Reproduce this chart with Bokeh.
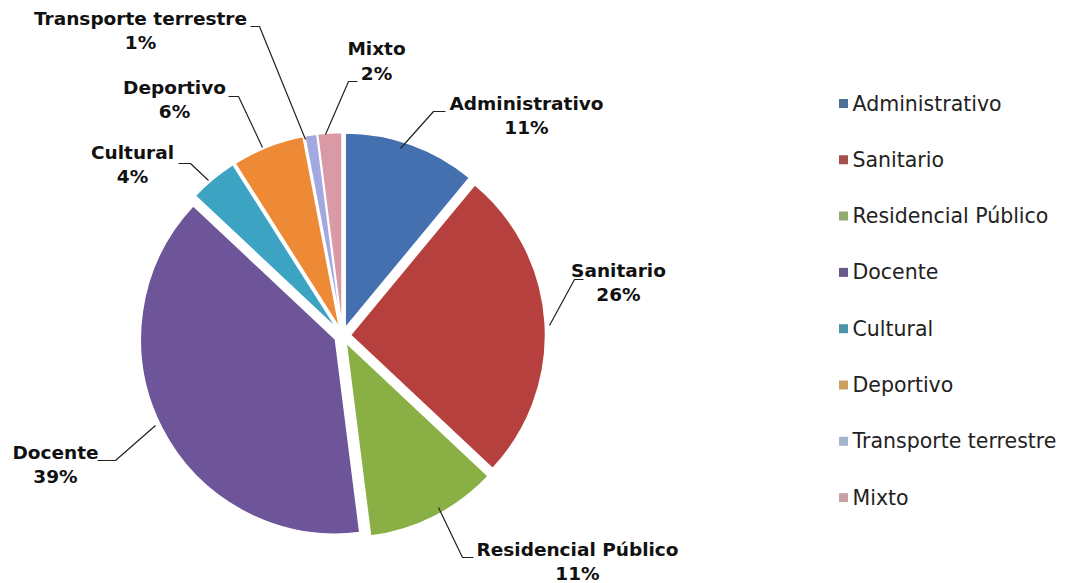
import numpy as np
from bokeh.plotting import figure
from bokeh.models import Range1d
from bokeh.core.properties import value
from bokeh.embed import file_html
from bokeh.resources import INLINE

# ---------------- data ----------------
categories = ["Administrativo", "Sanitario", "Residencial Público", "Docente",
              "Cultural", "Deportivo", "Transporte terrestre", "Mixto"]
percentages = [11, 26, 11, 39, 4, 6, 1, 2]

# ---------------- styles ----------------
slice_colors = ["#4470AF", "#B5403D", "#8AB045", "#6E559A",
                "#3DA3C2", "#EE8A35", "#A3A9E0", "#D99AA6"]
legend_colors = ["#4E6F96", "#A5504D", "#93AA6E", "#6A5A8C",
                 "#4E93AA", "#CDA062", "#A3B4CE", "#C9A0A4"]

W, H = 1081, 583


def X(xs):  # screen x (reference picture) -> data x
    return np.asarray(xs, dtype=float)


def Y(ys):  # screen y (reference picture) -> data y
    return H - np.asarray(ys, dtype=float)


p = figure(width=W, height=H, x_range=Range1d(0, W), y_range=Range1d(0, H),
           output_backend="svg", toolbar_location=None, min_border=0,
           background_fill_color="white", border_fill_color="white")
p.axis.visible = False
p.grid.visible = False
p.outline_line_color = None

# ---------------- pie ----------------
CX, CY, R, EXPLODE = X(342), Y(335), 195, 8
frac = np.array(percentages, dtype=float) / sum(percentages)
ends = np.cumsum(frac)
starts = ends - frac
start_ang = np.pi / 2 - ends * 2 * np.pi      # clockwise from 12 o'clock
end_ang = np.pi / 2 - starts * 2 * np.pi
mid = (start_ang + end_ang) / 2
p.wedge(x=CX + EXPLODE * np.cos(mid), y=CY + EXPLODE * np.sin(mid), radius=R,
        start_angle=start_ang, end_angle=end_ang, direction="anticlock",
        fill_color=slice_colors, line_color="white", line_width=1.5)

# ---------------- data labels (layout in screen px) ----------------
label_layout = {
    "Administrativo":       dict(cx=526, y1=103, y2=127, lead=[(445, 111), (433, 111), (400, 148)]),
    "Sanitario":            dict(cx=618, y1=270, y2=294, lead=[(583, 279), (574, 279), (549, 325)]),
    "Residencial Público":  dict(cx=577, y1=549, y2=573, lead=[(473, 557), (462, 557), (438, 507)]),
    "Docente":              dict(cx=55,  y1=452, y2=476, lead=[(97, 460), (115, 460), (155, 425)]),
    "Cultural":             dict(cx=132, y1=152, y2=176, lead=[(178, 163), (190, 163), (208, 180)]),
    "Deportivo":            dict(cx=174, y1=87,  y2=111, lead=[(228, 96), (238, 96), (262, 147)]),
    "Transporte terrestre": dict(cx=140, y1=18,  y2=42,  lead=[(250, 26), (259, 26), (305, 139)]),
    "Mixto":                dict(cx=376, y1=48,  y2=73,  lead=[(357, 81), (348, 81), (325, 134)]),
}

for cat, pct in zip(categories, percentages):
    L = label_layout[cat]
    xs, ys = zip(*L["lead"])
    p.line(x=X(xs), y=Y(ys), line_color="#222222", line_width=1.2)
    p.text(x=[X(L["cx"])], y=[Y(L["y1"])], text=[cat], text_align="center",
           text_baseline="middle", text_font=value("DejaVu Sans"),
           text_font_style="bold", text_font_size="18.5px", text_color="#111111")
    p.text(x=[X(L["cx"])], y=[Y(L["y2"])], text=[f"{pct}%"], text_align="center",
           text_baseline="middle", text_font=value("DejaVu Sans"),
           text_font_style="bold", text_font_size="18.5px", text_color="#111111")

# ---------------- legend ----------------
LEG_X, LEG_Y0, LEG_DY = 843, 103, 56.3
ly = Y([LEG_Y0 + i * LEG_DY for i in range(len(categories))])
p.rect(x=[X(LEG_X)] * len(categories), y=ly, width=9, height=9,
       fill_color=legend_colors, line_color=None)
p.text(x=[X(LEG_X + 9)] * len(categories), y=ly, text=categories,
       text_align="left", text_baseline="middle", text_font=value("DejaVu Sans"),
       text_font_size="20.5px", text_color="#222222")

open("out.html", "w").write(file_html(p, INLINE))
